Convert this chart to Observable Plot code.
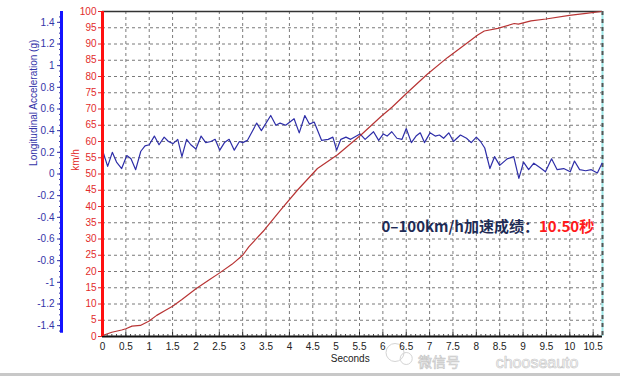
<!DOCTYPE html>
<html><head><meta charset="utf-8">
<script src="https://cdn.jsdelivr.net/npm/d3@7"></script>
<script src="https://cdn.jsdelivr.net/npm/@observablehq/plot@0.6"></script>
<style>
body{margin:0;background:#fff;width:620px;height:376px;overflow:hidden;position:relative}
#bar{position:absolute;left:0;top:373px;width:620px;height:3px;background:#c8c8c8}
</style></head><body><div id="chart"></div><div id="bar"></div>
<script>
// Speed (km/h) vs time (s)
const speedTime = [0,0.2,0.41,0.5,0.63,0.81,0.99,1.16,1.34,1.5,1.7,2.0,2.27,2.5,2.77,3.0,3.13,3.46,3.81,4.17,4.6,5.03,5.53,5.96,6.2,6.52,6.95,7.38,7.81,8.03,8.17,8.46,8.81,8.9,9.17,9.49,9.99,10.35,10.67];
const speedKmh = [0.3,1.3,2.0,2.4,3.2,3.4,4.7,6.5,8.0,9.3,11.4,14.7,17.3,19.5,22.2,25.0,27.6,32.7,38.9,45.0,51.7,55.9,62.0,67.7,70.6,75.0,80.7,85.8,90.4,92.8,94.0,94.8,96.3,96.1,97.1,97.7,98.8,99.4,100];
// Longitudinal acceleration (g) vs time (s)
const accelTime = [0.0,0.11,0.21,0.3,0.41,0.52,0.61,0.71,0.82,0.91,1.0,1.11,1.21,1.32,1.41,1.51,1.61,1.7,1.8,1.89,2.0,2.11,2.21,2.32,2.41,2.51,2.61,2.71,2.82,2.93,3.0,3.1,3.3,3.4,3.6,3.71,3.8,3.92,4.1,4.21,4.33,4.43,4.53,4.69,4.83,4.93,5.01,5.1,5.21,5.31,5.51,5.62,5.8,5.91,6.01,6.09,6.19,6.3,6.41,6.5,6.61,6.71,6.8,6.89,7.01,7.12,7.21,7.3,7.41,7.51,7.66,7.79,7.89,8.0,8.09,8.18,8.29,8.39,8.5,8.66,8.8,8.91,9.01,9.12,9.23,9.36,9.48,9.61,9.73,9.87,10.01,10.1,10.21,10.34,10.46,10.59,10.69];
const accelG = [0.22,0.07,0.20,0.11,0.05,0.17,0.14,0.04,0.21,0.26,0.27,0.35,0.27,0.34,0.30,0.28,0.32,0.16,0.32,0.27,0.23,0.35,0.29,0.30,0.32,0.22,0.29,0.32,0.22,0.30,0.29,0.31,0.47,0.40,0.54,0.45,0.47,0.45,0.51,0.38,0.54,0.46,0.48,0.31,0.32,0.34,0.22,0.32,0.34,0.32,0.37,0.32,0.39,0.31,0.37,0.35,0.39,0.33,0.32,0.42,0.29,0.35,0.38,0.29,0.38,0.35,0.36,0.33,0.38,0.30,0.36,0.33,0.29,0.34,0.30,0.24,0.05,0.16,0.08,0.14,0.16,-0.04,0.11,0.04,0.10,0.06,0.02,0.14,0.04,0.05,0.02,0.12,0.04,0.03,0.04,0.01,0.10];
// Tick values
const xTicks = [0,0.5,1,1.5,2,2.5,3,3.5,4,4.5,5,5.5,6,6.5,7,7.5,8,8.5,9,9.5,10,10.5];
const yTicks = [0,5,10,15,20,25,30,35,40,45,50,55,60,65,70,75,80,85,90,95,100];
const gTicks = [1.4,1.2,1,0.8,0.6,0.4,0.2,0,-0.2,-0.4,-0.6,-0.8,-1,-1.2,-1.4];
// Texts
const titleMain = "0–100km/h加速成绩：";
const titleValue = "10.50秒";
const xLabel = "Seconds";
const yLabelSpeed = "km/h";
const yLabelAccel = "Longitudinal Acceleration (g)";
const watermarkCn = "微信号";
const watermarkEn = "chooseauto";

const speed = speedTime.map((t, i) => ({t, v: speedKmh[i]}));
const accel = accelTime.map((t, i) => ({t, g: accelG[i]}));
// acceleration axis (-1.5..1.5 g) shares the km/h frame (0..100)
const gToKmh = g => 50 + g * 100 / 3;
const fmtG = k => String(Math.round((k - 50) * 3) / 100);
const minorG = d3.range(-1.45, 1.5, 0.05);
const minorX = d3.range(0, 10.7, 0.1);

const cjk = "'Noto Sans CJK SC', 'Noto Sans', sans-serif";
const plot = Plot.plot({
  width: 620, height: 376,
  marginLeft: 102, marginRight: 18, marginTop: 11, marginBottom: 40,
  style: {fontFamily: "'Liberation Sans', Arial, sans-serif", fontSize: "10px", background: "#fff", overflow: "visible"},
  x: {domain: [0, 10.7], axis: null},
  y: {domain: [0, 100], axis: null},
  marks: [
    Plot.gridX(xTicks, {stroke: "#7a7a7a", strokeOpacity: 1, strokeDasharray: "3,3"}),
    Plot.gridY(yTicks, {stroke: "#7a7a7a", strokeOpacity: 1, strokeDasharray: "3,3"}),
    Plot.ruleY([100], {stroke: "#333", strokeWidth: 1.5}),
    Plot.ruleX([10.7], {stroke: "#9ee9e9", strokeWidth: 2}),
    Plot.ruleX([10.7], {stroke: "#555", strokeWidth: 2, strokeDasharray: "4,4"}),
    // watermark (faint)
    Plot.dot([1], {x: 6.26, y: 0, dy: 16, r: 9, stroke: "#d4d4d4", fill: "none", strokeWidth: 1}),
    Plot.dot([1], {x: 6.5, y: 0, dy: 22, r: 6, stroke: "#d4d4d4", fill: "none", strokeWidth: 1}),
    Plot.text([watermarkCn], {x: 7.2, y: 0, dy: 26, fontFamily: cjk, fontSize: 14, fill: "none", stroke: "#c8c8c8", strokeWidth: 0.7}),
    Plot.text([watermarkEn], {x: 9.3, y: 0, dy: 26, fontFamily: "'Liberation Sans', sans-serif", fontSize: 16, fill: "none", stroke: "#c8c8c8", strokeWidth: 0.7}),
    // series
    Plot.line(accel, {x: "t", y: d => gToKmh(d.g), stroke: "#2e2ea8", strokeWidth: 1.2}),
    Plot.line(speed, {x: "t", y: "v", stroke: "#b83434", strokeWidth: 1.2}),
    // x axis
    Plot.ruleY([0], {stroke: "#111", strokeWidth: 2}),
    Plot.axisX(xTicks, {anchor: "bottom", label: null, tickSize: 0, tickPadding: 6, color: "#222", tickFormat: d => String(d)}),
    Plot.axisX(xTicks, {anchor: "bottom", label: null, tickSize: 4, dy: -4, color: "#222", tickFormat: () => ""}),
    Plot.axisX(minorX, {anchor: "bottom", label: null, tickSize: 2, dy: -2, color: "#444", tickFormat: () => ""}),
    Plot.text([xLabel], {x: 5.3, frameAnchor: "bottom", dy: 25, fill: "#222"}),
    // km/h axis
    Plot.axisY(yTicks, {anchor: "left", label: null, tickSize: 4, tickPadding: 2, color: "#e22b2b", tickFormat: d => String(d)}),
    Plot.ruleX([0], {stroke: "#ff1010", strokeWidth: 3}),
    Plot.text([yLabelSpeed], {frameAnchor: "left", y: 51, dx: -27, rotate: -90, fill: "#e22b2b"}),
    // g axis
    Plot.axisY(gTicks.map(gToKmh), {anchor: "left", label: null, dx: -41, tickSize: 4, tickPadding: 3, color: "#3434a8", tickFormat: fmtG}),
    Plot.axisY(minorG.map(gToKmh), {anchor: "left", label: null, dx: -41, tickSize: 2, color: "#3434a8", tickFormat: () => ""}),
    Plot.ruleX([0], {dx: -41, y1: gToKmh(-1.47), y2: 100, stroke: "#1414ff", strokeWidth: 3}),
    Plot.text([yLabelAccel], {frameAnchor: "left", y: 52.5, dx: -69, rotate: -90, fill: "#3434a8"}),
    // annotation
    Plot.text([titleMain], {x: 9.34, y: 33.7, textAnchor: "end", fontFamily: cjk, fontWeight: "bold", fontSize: 15, fill: "#1e2b55"}),
    Plot.text([titleValue], {x: 9.34, y: 33.7, textAnchor: "start", fontFamily: cjk, fontWeight: "bold", fontSize: 15, fill: "#ff1a1a"})
  ]
});
document.getElementById("chart").append(plot);
</script></body></html>
